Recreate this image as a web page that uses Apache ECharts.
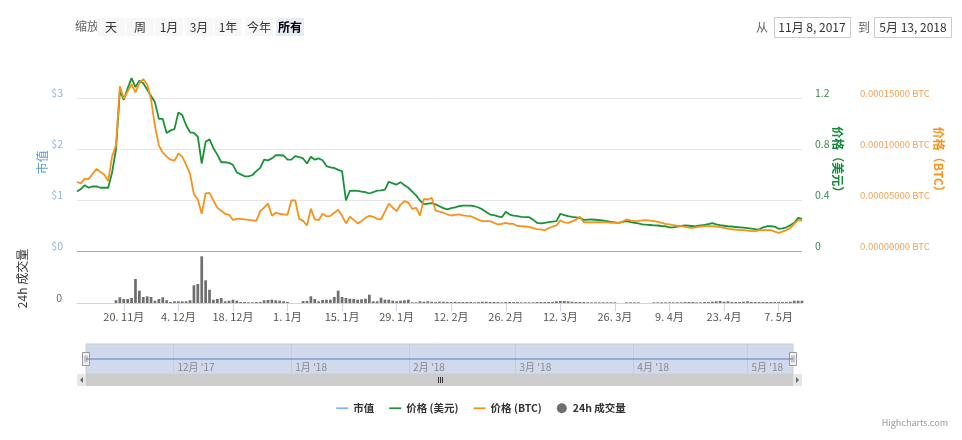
<!DOCTYPE html>
<html><head><meta charset="utf-8">
<script src="https://cdn.jsdelivr.net/npm/echarts@6/dist/echarts.min.js"></script>
<style>html,body{margin:0;padding:0;background:#fff}#c{width:962px;height:440px}</style>
</head><body><div id="c"></div>
<script>
// ---------- data ----------
const startDay = [2017, 10, 8];   // 8 Nov 2017 (month is 0-based)
const dayCount = 187;             // 8 Nov 2017 .. 13 May 2018, daily

// 市值 (market cap, USD) – shown flat at $0 in the source
const marketCap = [
  0,0,0,0,0,0,0,0,0,0, 0,0,0,0,0,0,0,0,0,0, 0,0,0,0,0,0,0,0,0,0,
  0,0,0,0,0,0,0,0,0,0, 0,0,0,0,0,0,0,0,0,0, 0,0,0,0,0,0,0,0,0,0,
  0,0,0,0,0,0,0,0,0,0, 0,0,0,0,0,0,0,0,0,0, 0,0,0,0,0,0,0,0,0,0,
  0,0,0,0,0,0,0,0,0,0, 0,0,0,0,0,0,0,0,0,0, 0,0,0,0,0,0,0,0,0,0,
  0,0,0,0,0,0,0,0,0,0, 0,0,0,0,0,0,0,0,0,0, 0,0,0,0,0,0,0,0,0,0,
  0,0,0,0,0,0,0,0,0,0, 0,0,0,0,0,0,0,0,0,0, 0,0,0,0,0,0,0,0,0,0,
  0,0,0,0,0,0,0
];

// 价格 (美元)
const priceUsd = [
  0.47, 0.49, 0.52, 0.50, 0.51, 0.51, 0.50, 0.50, 0.50, 0.62,
  0.80, 1.26, 1.19, 1.28, 1.36, 1.29, 1.34, 1.32, 1.27, 1.22,
  1.17, 1.04, 1.04, 0.93, 0.95, 0.96, 1.09, 1.07, 0.99, 0.935,
  0.93, 0.90, 0.69, 0.86, 0.88, 0.81, 0.76, 0.70, 0.70, 0.695,
  0.68, 0.62, 0.605, 0.59, 0.59, 0.60, 0.63, 0.656, 0.72, 0.715,
  0.73, 0.755, 0.755, 0.753, 0.72, 0.72, 0.748, 0.74, 0.73, 0.69,
  0.743, 0.72, 0.73, 0.716, 0.67, 0.66, 0.655, 0.64, 0.63, 0.40,
  0.475, 0.478, 0.475, 0.47, 0.465, 0.455, 0.465, 0.478, 0.48, 0.486,
  0.547, 0.535, 0.525, 0.544, 0.52, 0.50, 0.47, 0.44, 0.40, 0.37,
  0.375, 0.38, 0.37, 0.355, 0.34, 0.33, 0.34, 0.347, 0.355, 0.36,
  0.36, 0.36, 0.355, 0.345, 0.33, 0.31, 0.29, 0.285, 0.275, 0.269,
  0.311, 0.29, 0.282, 0.277, 0.272, 0.27, 0.269, 0.25, 0.225, 0.22,
  0.225, 0.23, 0.235, 0.238, 0.296, 0.285, 0.277, 0.272, 0.268, 0.264,
  0.248, 0.25, 0.251, 0.249, 0.246, 0.243, 0.238, 0.233, 0.229, 0.225,
  0.232, 0.238, 0.23, 0.225, 0.22, 0.213, 0.21, 0.208, 0.205, 0.204,
  0.2, 0.198, 0.19, 0.19, 0.196, 0.2, 0.205, 0.202, 0.198, 0.2,
  0.205, 0.208, 0.215, 0.222, 0.212, 0.206, 0.202, 0.198, 0.196, 0.192,
  0.19, 0.187, 0.184, 0.18, 0.175, 0.172, 0.19, 0.198, 0.198, 0.195,
  0.178, 0.182, 0.19, 0.205, 0.225, 0.264, 0.256
];

// 价格 (BTC), in units of 0.00001 BTC
const priceBtcE5 = [
  6.8, 6.7, 7.15, 7.1, 7.6, 8.1, 7.8, 7.55, 6.9, 9.3,
  10.4, 16.2, 15.0, 15.7, 16.4, 15.6, 16.5, 16.9, 16.4, 14.9,
  12.3, 10.4, 9.7, 9.3, 9.0, 8.9, 9.6, 9.3, 8.5, 7.6,
  5.6, 5.1, 3.7, 5.7, 5.75, 5.0, 4.3, 4.0, 3.7, 3.6,
  3.1, 3.2, 3.2, 3.15, 3.1, 3.05, 3.0, 3.95, 4.3, 4.7,
  3.5, 3.8, 3.7, 3.65, 3.6, 5.0, 5.0, 3.2, 3.0, 2.55,
  4.2, 3.15, 3.07, 3.7, 3.45, 3.5, 3.8, 4.1, 3.5, 2.75,
  3.4, 3.1, 2.75, 3.0, 3.3, 3.5, 3.4, 3.2, 3.14, 3.9,
  4.7, 4.3, 3.95, 4.6, 4.93, 4.8, 4.18, 4.28, 3.53, 5.16,
  5.1, 5.26, 4.0, 3.9, 3.8, 3.65, 3.53, 3.6, 3.63, 3.55,
  3.5, 3.46, 3.3, 3.1, 2.97, 2.97, 2.97, 2.8, 2.65, 2.7,
  2.8, 2.72, 2.7, 2.5, 2.48, 2.45, 2.42, 2.3, 2.2, 2.16,
  2.08, 2.3, 2.45, 2.55, 3.07, 2.85, 2.81, 2.95, 3.1, 3.4,
  2.87, 2.87, 2.85, 2.88, 2.87, 2.87, 2.85, 2.82, 2.81, 2.81,
  2.95, 3.14, 3.05, 2.97, 3.0, 3.05, 3.07, 3.02, 2.97, 2.9,
  2.8, 2.7, 2.65, 2.58, 2.52, 2.48, 2.42, 2.35, 2.32, 2.4,
  2.45, 2.48, 2.48, 2.48, 2.45, 2.38, 2.32, 2.25, 2.18, 2.15,
  2.1, 2.09, 2.05, 2.0, 2.0, 2.09, 2.09, 2.09, 2.09, 1.95,
  1.83, 1.95, 2.1, 2.3, 2.7, 3.07, 3.0
];

// 24h 成交量 (relative units)
const volume = [
  null, null, null, null, null, null, null, null, null, null,
  2.7, 5.7, 4, 4, 5, 24, 12.3, 6, 6.7, 6,
  2.3, 4, 5.7, 2.7, 1, 1.7, 1.7, 1.7, 1.7, 2.7,
  17.7, 19, 46.7, 22.7, 13.3, 3.3, 4, 5, 1.7, 2.3,
  3.3, 2.3, 1, 1, 0.7, 0.7, 1, 1, 2.7, 3,
  3.3, 2.7, 2.3, 1.7, 1, null, null, null, 2, 2,
  6.7, 4, 1.7, 3, 3.3, 3.3, 6, 12.3, 6, 5,
  4.3, 4, 3.3, 3.7, 4.3, 8.3, 1.7, 1.7, 5.3, 3.3,
  3.3, 2.3, 1.7, 2.3, 2.7, 3.3, 0.7, 0.7, 1.7, 1.3,
  1.7, 1.3, 1, 1.3, 1.3, 1, 1, 1.3, 1, 1,
  1, 1, 0.7, 1, 1.3, 1.3, 1, 1, 1, 0.7,
  1, 1, 1, 1, 0.7, 0.7, 0.7, 0.7, 1, 1,
  1, 1, 1, 1.7, 2, 2, 1.7, 1.3, 1, 1,
  1, 0.7, 0.7, 0.7, 0.7, 0.7, 0.7, 0.7, 0.7, null,
  null, 0.7, 0.7, 0.7, 0.7, null, null, null, 0.7, 0.7,
  0.7, 0.7, 0.7, 0.7, 0.7, 0.7, 1, 1, 1, 0.7,
  0.7, 1, 1, 1.3, 1.7, 2, 1.3, 1.7, 1, 1,
  1, 1.3, 1.7, 1, 1, 1, 1, 1, 1, 1,
  1, 1, 1, 1.3, 2.3, 2.3, 2.3
];

// range selector / input texts
const rangeButtons = ['天', '周', '1月', '3月', '1年', '今年', '所有'];
const selectedButton = '所有';
const fromText = '11月 8, 2017';
const toText = '5月 13, 2018';

// ---------- build ----------
const cats = [];
for (let i = 0; i < dayCount; i++) {
  const d = new Date(Date.UTC(startDay[0], startDay[1], startDay[2] + i));
  cats.push(d.toISOString().slice(0, 10));
}
const parts = s => s.split('-').map(Number);
const isLabelDay = (i) => i >= 12 && (i - 12) % 14 === 0;   // every other Monday from 20 Nov
const isMonthStart = (i) => parts(cats[i])[2] === 1;

const FONT = "'Noto Sans CJK SC', 'Noto Sans', sans-serif";
const GREEN = '#1a9338';
const ORANGE = '#f7931a';
const BLUE = '#7cb5ec';
const LINE_ICON = 'path://M0,0 L14,0 L14,2 L0,2 Z';

const chart = echarts.init(document.getElementById('c'), null, {renderer: 'canvas'});

const option = {
  animation: false,
  textStyle: {fontFamily: FONT},
  grid: [
    {left: 77, right: 160, top: 73, height: 178.5},
    {left: 77, right: 160, top: 254, height: 49},
    {left: 86, right: 169, top: 344, height: 30, show: true,
     backgroundColor: 'rgba(102,133,194,0.3)', borderColor: '#cccccc', borderWidth: 1}
  ],
  legend: {
    top: 398, left: 'center', itemGap: 15, itemWidth: 12, itemHeight: 10, symbolKeepAspect: true,
    textStyle: {fontSize: 10.5, color: '#333', fontWeight: 'bold', fontFamily: FONT},
    data: [
      {name: '市值', icon: LINE_ICON},
      {name: '价格 (美元)', icon: LINE_ICON},
      {name: '价格 (BTC)', icon: LINE_ICON},
      {name: '24h 成交量', icon: 'circle'}
    ]
  },
  xAxis: [
    {type: 'category', gridIndex: 0, data: cats, boundaryGap: false,
     axisLine: {show: false}, axisTick: {show: false}, axisLabel: {show: false}, splitLine: {show: false}},
    {type: 'category', gridIndex: 1, data: cats, boundaryGap: false,
     axisLine: {show: true, lineStyle: {color: '#ccd6eb', width: 1}},
     axisTick: {show: true, interval: isLabelDay, length: 8, lineStyle: {color: '#ccd6eb'}},
     axisLabel: {interval: isLabelDay, color: '#555', fontSize: 11, margin: 8,
       formatter: v => { const p = parts(v); return p[2] + '. ' + p[1] + '月'; }},
     splitLine: {show: false}},
    {type: 'category', gridIndex: 2, data: cats, boundaryGap: false,
     axisLine: {show: false}, axisTick: {show: false},
     axisLabel: {inside: true, interval: isMonthStart, color: '#888', fontSize: 10, margin: 2,
       align: 'left', padding: [0, 0, 0, 4],
       formatter: v => { const p = parts(v); return p[1] + '月 \'' + String(p[0]).slice(2); }},
     splitLine: {show: true, interval: isMonthStart, lineStyle: {color: '#c2cce3', width: 1}}}
  ],
  yAxis: [
    {type: 'value', gridIndex: 0, position: 'left', min: 0, max: 3.5, interval: 1,
     axisLine: {show: false}, axisTick: {show: false},
     axisLabel: {formatter: v => '$' + v, color: '#8fb4e0', fontSize: 10.5, margin: 14,
       verticalAlign: 'bottom', showMaxLabel: false},
     splitLine: {show: true, showMaxLine: false, lineStyle: {color: '#e6e6e6'}},
     name: '市值', nameLocation: 'middle', nameGap: 29, nameRotate: 90, nameMoveOverlap: false,
     nameTextStyle: {color: '#5b9bd8', fontSize: 12}},
    {type: 'value', gridIndex: 0, position: 'right', min: 0, max: 1.4, interval: 0.4,
     axisLine: {show: false}, axisTick: {show: false}, splitLine: {show: false},
     axisLabel: {formatter: v => (v === 0 ? '0' : v.toFixed(1)), color: '#3c8a55', fontSize: 10.5, margin: 13,
       verticalAlign: 'bottom', showMaxLabel: false},
     name: '价格（美元）', nameLocation: 'middle', nameGap: 30, nameRotate: -90, nameMoveOverlap: false,
     nameTextStyle: {color: '#15893a', fontSize: 12, fontWeight: 'bold'}},
    {type: 'value', gridIndex: 0, position: 'right', offset: 45, min: 0, max: 0.000175, interval: 0.00005,
     axisLine: {show: false}, axisTick: {show: false}, splitLine: {show: false},
     axisLabel: {formatter: v => v.toFixed(8) + ' BTC', color: '#f2a255', fontSize: 9.5, margin: 13,
       verticalAlign: 'bottom', showMaxLabel: false},
     name: '价格（BTC）', nameLocation: 'middle', nameGap: 86, nameRotate: -90, nameMoveOverlap: false,
     nameTextStyle: {color: '#f7931a', fontSize: 12, fontWeight: 'bold'}},
    {type: 'value', gridIndex: 1, position: 'left', min: 0, max: 49, interval: 49,
     axisLine: {show: false}, axisTick: {show: false}, splitLine: {show: false},
     axisLabel: {formatter: v => (v === 0 ? '0' : ''), color: '#666', fontSize: 10.5, margin: 15,
       verticalAlign: 'bottom'},
     name: '24h 成交量', nameLocation: 'middle', nameGap: 49, nameRotate: 90, nameMoveOverlap: false,
     nameTextStyle: {color: '#333', fontSize: 12}},
    {type: 'value', gridIndex: 2, min: -1, max: 1, show: false}
  ],
  series: [
    {name: '市值', type: 'line', xAxisIndex: 0, yAxisIndex: 0, data: marketCap,
     symbol: 'none', color: BLUE, lineStyle: {width: 1.2, color: BLUE}, z: 2},
    {name: '价格 (美元)', type: 'line', xAxisIndex: 0, yAxisIndex: 1, data: priceUsd,
     symbol: 'none', color: GREEN, lineStyle: {width: 1.8, color: GREEN}, z: 3},
    {name: '价格 (BTC)', type: 'line', xAxisIndex: 0, yAxisIndex: 2, data: priceBtcE5.map(v => v * 1e-5),
     symbol: 'none', color: ORANGE, lineStyle: {width: 1.8, color: ORANGE}, z: 4},
    {name: '24h 成交量', type: 'bar', xAxisIndex: 1, yAxisIndex: 3, data: volume,
     barWidth: '70%', color: '#6f6f6f', itemStyle: {color: '#6f6f6f'}},
    {name: 'navigator', type: 'line', xAxisIndex: 2, yAxisIndex: 4, data: marketCap,
     symbol: 'none', color: '#5577bb', lineStyle: {width: 1, color: '#5b7cbf'}, silent: true}
  ]
};
chart.setOption(option);

// ---------- UI decorations (range selector, inputs, navigator handles, scrollbar) ----------
const els = [];
els.push({type: 'text', left: 75, top: 20, style: {text: '缩放', fill: '#666', fontSize: 12, fontFamily: FONT}});
const btnCenters = [111, 140, 169, 199, 228, 259, 290];
rangeButtons.forEach((b, i) => {
  const sel = b === selectedButton;
  els.push({type: 'rect', shape: {x: btnCenters[i] - 14, y: 18, width: 28, height: 18},
    style: {fill: sel ? '#e6ebf5' : '#f7f7f7'}});
  els.push({type: 'text', x: btnCenters[i], y: 27,
    style: {text: b, fill: sel ? '#000' : '#333', fontSize: 12, fontWeight: sel ? 'bold' : 'normal',
      align: 'center', verticalAlign: 'middle', fontFamily: FONT}});
});
els.push({type: 'text', x: 756, y: 27, style: {text: '从', fill: '#666', fontSize: 12, verticalAlign: 'middle', fontFamily: FONT}});
els.push({type: 'rect', shape: {x: 774.5, y: 17.5, width: 76, height: 20}, style: {fill: '#fff', stroke: '#cccccc'}});
els.push({type: 'text', x: 812, y: 27.5, style: {text: fromText, fill: '#333', fontSize: 12, align: 'center', verticalAlign: 'middle', fontFamily: FONT}});
els.push({type: 'text', x: 858, y: 27, style: {text: '到', fill: '#666', fontSize: 12, verticalAlign: 'middle', fontFamily: FONT}});
els.push({type: 'rect', shape: {x: 874.5, y: 17.5, width: 77, height: 20}, style: {fill: '#fff', stroke: '#cccccc'}});
els.push({type: 'text', x: 913, y: 27.5, style: {text: toText, fill: '#333', fontSize: 12, align: 'center', verticalAlign: 'middle', fontFamily: FONT}});

const navL = chart.convertToPixel({xAxisIndex: 2}, 0);
const navR = chart.convertToPixel({xAxisIndex: 2}, dayCount - 1);
const plotL = chart.convertToPixel({xAxisIndex: 1}, 0);
const plotR = chart.convertToPixel({xAxisIndex: 1}, dayCount - 1);
const sbY = 374, sbH = 12;
// scrollbar
els.push({type: 'rect', shape: {x: plotL, y: sbY, width: plotR - plotL, height: sbH}, style: {fill: '#f2f2f2'}});
els.push({type: 'rect', shape: {x: navL, y: sbY, width: navR - navL, height: sbH}, style: {fill: '#cccccc'}});
els.push({type: 'rect', shape: {x: plotL, y: sbY, width: navL - plotL, height: sbH}, style: {fill: '#e6e6e6'}});
els.push({type: 'rect', shape: {x: navR, y: sbY, width: plotR - navR, height: sbH}, style: {fill: '#e6e6e6'}});
const lm = (plotL + navL) / 2, rm = (navR + plotR) / 2, cy = sbY + sbH / 2;
els.push({type: 'polygon', shape: {points: [[lm + 1.5, cy - 3], [lm + 1.5, cy + 3], [lm - 1.5, cy]]}, style: {fill: '#666'}});
els.push({type: 'polygon', shape: {points: [[rm - 1.5, cy - 3], [rm - 1.5, cy + 3], [rm + 1.5, cy]]}, style: {fill: '#666'}});
const mid = Math.round((navL + navR) / 2) + 0.5;
[-2, 0, 2].forEach(o => els.push({type: 'line', shape: {x1: mid + o, y1: cy - 3, x2: mid + o, y2: cy + 3}, style: {stroke: '#333', lineWidth: 1}}));
// navigator handles
[navL, navR].forEach(x => {
  const hx = Math.round(x) - 3.5;
  els.push({type: 'rect', shape: {x: hx, y: 352.5, width: 7, height: 13}, style: {fill: '#f2f2f2', stroke: '#999999', lineWidth: 1}});
  els.push({type: 'line', shape: {x1: hx + 2.5, y1: 355.5, x2: hx + 2.5, y2: 362.5}, style: {stroke: '#999999', lineWidth: 1}});
  els.push({type: 'line', shape: {x1: hx + 4.5, y1: 355.5, x2: hx + 4.5, y2: 362.5}, style: {stroke: '#999999', lineWidth: 1}});
});
els.push({type: 'text', right: 14, top: 418, style: {text: 'Highcharts.com', fill: '#999', fontSize: 9, fontFamily: FONT}});

chart.setOption({graphic: {elements: els}});
</script>
</body></html>
